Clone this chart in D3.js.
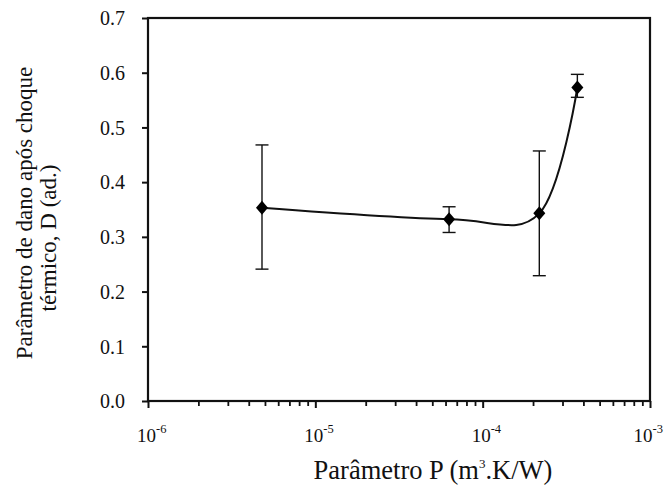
<!DOCTYPE html>
<html>
<head>
<meta charset="utf-8">
<script src="https://cdn.jsdelivr.net/npm/d3@7"></script>
<style>
  html, body { margin: 0; padding: 0; background: #fff; }
  svg { display: block; }
  svg text { font-family: 'Liberation Serif', 'Times New Roman', serif !important; fill: #111; }
</style>
</head>
<body>
<svg id="chart" width="665" height="493"></svg>
<script>
// Thermal-shock damage parameter D versus parameter P
const pValues   = [4.8e-6, 6.3e-5, 2.18e-4, 3.68e-4];
const dValues   = [0.353, 0.332, 0.343, 0.573];
const errLow    = [0.241, 0.308, 0.229, 0.555];
const errHigh   = [0.468, 0.355, 0.457, 0.597];
const yTicks    = [0, 0.1, 0.2, 0.3, 0.4, 0.5, 0.6, 0.7];
const xDecades  = [1e-6, 1e-5, 1e-4, 1e-3];
const xExponents = ["-6", "-5", "-4", "-3"];

const svg = d3.select("#chart");
const W = 665;
const m = { left: 148, right: 650, top: 18, bottom: 401 };

const x = d3.scaleLog().domain([1e-6, 1e-3]).range([m.left, m.right]);
const y = d3.scaleLinear().domain([0, 0.7]).range([m.bottom, m.top]);

// minor log ticks (2..9 in each decade)
const minorTicks = [];
xDecades.slice(0, -1).forEach(d => { for (let k = 2; k <= 9; k++) minorTicks.push(d * k); });

const axisColor = "#111";

// x axis: minor ticks
svg.append("g")
  .attr("transform", `translate(0,${m.bottom})`)
  .call(d3.axisBottom(x).tickValues(minorTicks).tickSize(5).tickSizeOuter(0).tickFormat(""))
  .call(g => g.select(".domain").remove())
  .call(g => g.selectAll("line").attr("stroke", axisColor).attr("stroke-width", 1.8));

// x axis: decade ticks
svg.append("g")
  .attr("transform", `translate(0,${m.bottom})`)
  .call(d3.axisBottom(x).tickValues(xDecades).tickSize(7).tickSizeOuter(0).tickFormat(""))
  .call(g => g.select(".domain").remove())
  .call(g => g.selectAll("line").attr("stroke", axisColor).attr("stroke-width", 2));

// decade labels: "10" with a superscript exponent, kept inside the canvas
const xLabels = svg.append("g");
xDecades.forEach((d, i) => {
  const t = xLabels.append("text")
    .attr("y", m.bottom + 41)
    .attr("font-size", 19)
    .attr("fill", "#111");
  t.append("tspan").text("10");
  t.append("tspan").attr("dy", -9).attr("font-size", 12.5).text(xExponents[i]);
  const w = t.node().getComputedTextLength();
  t.attr("x", Math.min(x(d) - 11, W - 2 - w));
});

// y axis
svg.append("g")
  .attr("transform", `translate(${m.left},0)`)
  .call(d3.axisLeft(y).tickValues(yTicks).tickSize(6).tickSizeOuter(0).tickFormat(d3.format(".1f")))
  .call(g => g.attr("font-family", null))
  .call(g => g.select(".domain").remove())
  .call(g => g.selectAll("line").attr("stroke", axisColor).attr("stroke-width", 2))
  .call(g => g.selectAll("text")
    .attr("x", -23).attr("dy", "0.34em")
    .attr("font-size", 20).attr("fill", "#111"));

// frame
svg.append("rect")
  .attr("x", m.left).attr("y", m.top)
  .attr("width", m.right - m.left).attr("height", m.bottom - m.top)
  .attr("fill", "none").attr("stroke", axisColor).attr("stroke-width", 2.2);

// x axis title
const xt = svg.append("text")
  .attr("x", 433).attr("y", 479)
  .attr("text-anchor", "middle")
  .attr("font-size", 26.5);
xt.append("tspan").text("Parâmetro P (m");
xt.append("tspan").attr("dy", -11).attr("font-size", 13).text("3");
xt.append("tspan").attr("dy", 11).text(".K/W)");

// y axis title (two lines)
svg.append("text")
  .attr("transform", "translate(32,213) rotate(-90)")
  .attr("text-anchor", "middle")
  .attr("font-size", 23)
  .text("Parâmetro de dano após choque");
svg.append("text")
  .attr("transform", "translate(56,238) rotate(-90)")
  .attr("text-anchor", "middle")
  .attr("font-size", 23)
  .text("térmico, D (ad.)");

const pts = pValues.map((p, i) => ({ p, d: dValues[i], lo: errLow[i], hi: errHigh[i] }));

// smoothed connecting curve
svg.append("path")
  .datum(pts)
  .attr("fill", "none")
  .attr("stroke", "#111")
  .attr("stroke-width", 2)
  .attr("d", d3.line().x(d => x(d.p)).y(d => y(d.d)).curve(d3.curveCatmullRom.alpha(0)));

// error bars
const eb = svg.append("g").attr("stroke", "#111").attr("stroke-width", 1.4);
pts.forEach(d => {
  const cx = x(d.p);
  eb.append("line").attr("x1", cx).attr("x2", cx).attr("y1", y(d.lo)).attr("y2", y(d.hi));
  eb.append("line").attr("x1", cx - 6.5).attr("x2", cx + 6.5).attr("y1", y(d.lo)).attr("y2", y(d.lo));
  eb.append("line").attr("x1", cx - 6.5).attr("x2", cx + 6.5).attr("y1", y(d.hi)).attr("y2", y(d.hi));
});

// diamond markers
const hw = 6, hh = 7;
svg.append("g").selectAll("path")
  .data(pts)
  .join("path")
  .attr("transform", d => `translate(${x(d.p)},${y(d.d)})`)
  .attr("d", `M0,${-hh}L${hw},0L0,${hh}L${-hw},0Z`)
  .attr("fill", "#000");
</script>
</body>
</html>
